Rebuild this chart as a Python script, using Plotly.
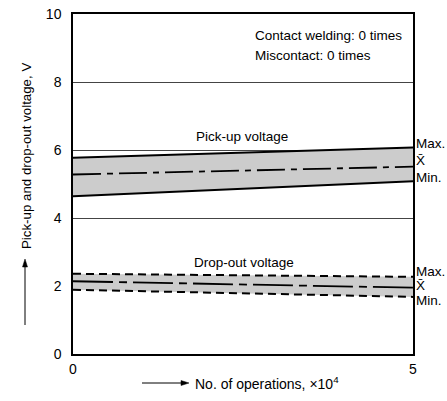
import plotly.graph_objects as go

x_ops = [0, 5]
pick_max = [5.77, 6.07]
pick_mean = [5.28, 5.51]
pick_min = [4.64, 5.08]
drop_max = [2.36, 2.27]
drop_mean = [2.14, 1.95]
drop_min = [1.89, 1.68]
y_ticks = [0, 2, 4, 6, 8, 10]
x_ticks = [0, 5]

FONT = "Arial, Liberation Sans, sans-serif"
L, R, T, B, W, H = 73, 34, 14, 47, 447, 401
PW, PH = W - L - R, H - T - B

def px(x):
    return (x - L) / PW

def py(y):
    return (H - B - y) / PH

fig = go.Figure()

def band(lo, hi):
    fig.add_trace(go.Scatter(x=x_ops, y=lo, mode="lines", line=dict(width=0), showlegend=False, hoverinfo="skip"))
    fig.add_trace(go.Scatter(x=x_ops, y=hi, mode="lines", line=dict(width=0), fill="tonexty",
                             fillcolor="#cccccc", showlegend=False, hoverinfo="skip"))

band(pick_min, pick_max)
band(drop_min, drop_max)

for ys, dash, w in [(pick_max, "solid", 2), (pick_min, "solid", 2), (pick_mean, "28px,6px,6px,6px", 1.8),
                    (drop_max, "8px,5px", 2), (drop_min, "8px,5px", 2), (drop_mean, "40px,6px,8px,6px", 1.8)]:
    fig.add_trace(go.Scatter(x=x_ops, y=ys, mode="lines", line=dict(color="black", width=w, dash=dash),
                             showlegend=False, hoverinfo="skip"))

ann = []
def t(x, y, s, xref="x", yref="y", xa="left", size=13.5, **kw):
    ann.append(dict(x=x, y=y, text=s, xref=xref, yref=yref, xanchor=xa, yanchor="middle",
                    showarrow=False, font=dict(family=FONT, size=size, color="black"), **kw))

t(px(253), py(35), "Contact welding: 0 times", xref="paper", yref="paper")
t(px(253), py(55), "Miscontact: 0 times", xref="paper", yref="paper")
t(px(242), py(136), "Pick-up voltage", xref="paper", yref="paper", xa="center")
t(px(244), py(262), "Drop-out voltage", xref="paper", yref="paper", xa="center")

for yy, s in [(143, "Max."), (160, "X̄"), (178, "Min."), (271, "Max."), (285, "X̄"), (300, "Min.")]:
    t(px(414), py(yy), s, xref="paper", yref="paper")

# axis titles
ann.append(dict(x=px(26), y=py(156), xref="paper", yref="paper", text="Pick-up and drop-out voltage, V",
                xanchor="center", yanchor="middle",
                textangle=-90, showarrow=False, font=dict(family=FONT, size=13.3, color="black")))
ann.append(dict(x=px(193), y=py(383), xref="paper", yref="paper",
                text="No. of operations, ×10<sup>4</sup>", xanchor="left", yanchor="middle", showarrow=False,
                font=dict(family=FONT, size=14, color="black")))

shapes = [
    dict(type="line", xref="paper", yref="paper", x0=px(25), x1=px(25), y0=py(325), y1=py(266),
         line=dict(color="black", width=1)),
    dict(type="path", xref="paper", yref="paper",
         path=f"M {px(25)} {py(259)} L {px(22.5)} {py(267)} L {px(27.5)} {py(267)} Z",
         fillcolor="black", line=dict(color="black", width=0.5)),
    dict(type="line", xref="paper", yref="paper", x0=px(142), x1=px(182), y0=py(383), y1=py(383),
         line=dict(color="black", width=1)),
    dict(type="path", xref="paper", yref="paper",
         path=f"M {px(189)} {py(383)} L {px(181)} {py(380.5)} L {px(181)} {py(385.5)} Z",
         fillcolor="black", line=dict(color="black", width=0.5)),
]

fig.update_layout(
    width=W, height=H, margin=dict(l=L, r=R, t=T, b=B),
    plot_bgcolor="white", paper_bgcolor="white",
    font=dict(family=FONT, size=14, color="black"),
    annotations=ann, shapes=shapes,
    xaxis=dict(range=[0, 5], tickvals=x_ticks, showgrid=False, zeroline=False, showline=True,
               linecolor="black", linewidth=1.5, mirror=True, ticks="", ticklabelstandoff=1,
               automargin=False, tickfont=dict(size=14, family=FONT)),
    yaxis=dict(range=[0, 10], tickvals=y_ticks, showgrid=True, gridcolor="#444444", gridwidth=1,
               zeroline=False, showline=True, linecolor="black", linewidth=1.5, mirror=True, ticks="",
               ticklabelstandoff=7, automargin=False, tickfont=dict(size=14, family=FONT)),
)
fig.write_html("out.html", config={"displayModeBar": False},
               post_script="document.body.style.margin='0';document.body.style.padding='0';")
